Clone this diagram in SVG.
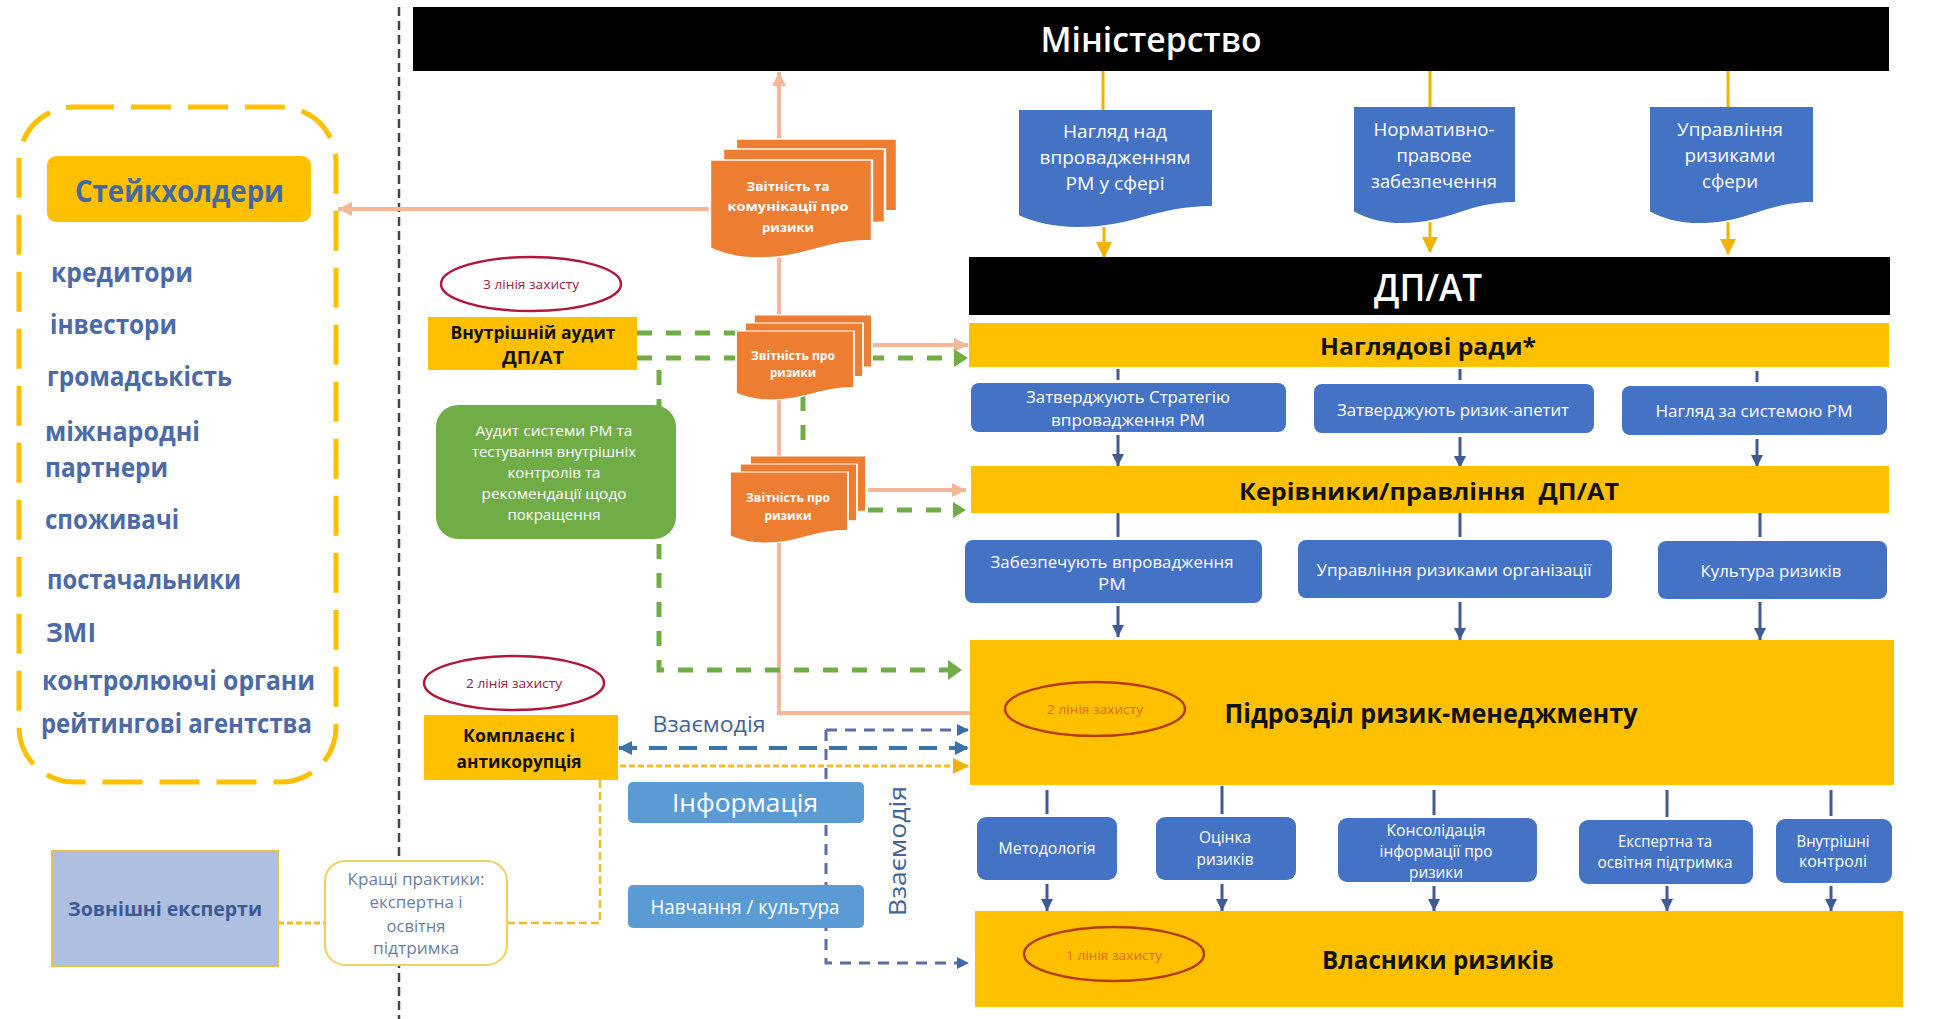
<svg xmlns="http://www.w3.org/2000/svg" width="1936" height="1019" viewBox="0 0 1936 1019">
<style>
text{font-family:"Open Sans","Noto Sans","Liberation Sans",sans-serif;text-anchor:middle;dominant-baseline:central;transform:translateY(-1px)}
.w{fill:#fff}.k{fill:#111;font-weight:700}.s{fill:#4a6aa8;font-weight:700;font-size:26px;text-anchor:start}
.y{fill:#ffc000}.b{fill:#4472c4}.o{fill:#ed7d31}.dk{fill:#000}
.doc{stroke:#fff;stroke-width:1.5;vector-effect:non-scaling-stroke}
.c{fill:none}
.sal{stroke:#f4b79a;stroke-width:4;marker-end:url(#mSal)}
.salp{stroke:#f4b79a;stroke-width:4}
.gr{stroke:#70ad47;stroke-width:5;stroke-dasharray:15 14}
.yl{stroke:#f0b400;stroke-width:3}
.bl{stroke:#3f5a94;stroke-width:3}
.nv{stroke:#5a6fa8;stroke-width:3;stroke-dasharray:11 8}
.st{stroke:#3d74a8;stroke-width:4;stroke-dasharray:18 12}
.dot{stroke:#f2bc2e;stroke-width:3;stroke-dasharray:6 3}
.das{stroke:#f2bc2e;stroke-width:2.5;stroke-dasharray:8 4}
.el{fill:none;stroke:#b0173a;stroke-width:2.5}
.el2{fill:none;stroke:#b83a10;stroke-width:2.5}
</style>
<defs>
<path id="doc" d="M0,0H100V82C70,82 60,100 30,100C18,100 8,96 0,90Z"/>
<marker id="mSal" markerUnits="userSpaceOnUse" markerWidth="16" markerHeight="16" refX="14" refY="8" orient="auto"><path d="M0,1L14,8L0,15Z" fill="#f4b79a"/></marker>
<marker id="mYl" markerUnits="userSpaceOnUse" markerWidth="18" markerHeight="20" refX="15" refY="10" orient="auto"><path d="M0,2L16,10L0,18Z" fill="#f0b400"/></marker>
<marker id="mBl" markerUnits="userSpaceOnUse" markerWidth="14" markerHeight="14" refX="12" refY="7" orient="auto"><path d="M0,1L12,7L0,13Z" fill="#3f5a94"/></marker>
<marker id="mNv" markerUnits="userSpaceOnUse" markerWidth="14" markerHeight="14" refX="11" refY="7" orient="auto"><path d="M0,1L12,7L0,13Z" fill="#3f6aa8"/></marker>
<marker id="mSt" markerUnits="userSpaceOnUse" markerWidth="16" markerHeight="16" refX="13" refY="8" orient="auto-start-reverse"><path d="M0,1L14,8L0,15Z" fill="#3d74a8"/></marker>
</defs>
<rect width="1936" height="1019" fill="#fff"/>

<g id="connectors">
<line x1="399" y1="7" x2="399" y2="1019" stroke="#444" stroke-width="2.5" stroke-dasharray="9 5"/>
<path class="c sal" d="M779,140V72"/>
<path class="c sal" d="M710,209H338"/>
<path class="c salp" d="M779,250V330M779,395V470M779,540V713H970"/>
<path class="c sal" d="M873,345H968"/>
<path class="c sal" d="M868,490H966"/>
<path class="c gr" d="M637,333H740"/>
<path class="c gr" d="M637,358H955"/>
<path d="M954,349L968,358L954,367Z" fill="#70ad47"/>
<path class="c gr" d="M868,510H955"/>
<path d="M953,502L966,510L953,518Z" fill="#70ad47"/>
<path class="c gr" d="M659,370V670H950"/>
<path d="M948,660L962,670L948,680Z" fill="#70ad47"/>
<path class="c gr" d="M803,396V445"/>
<path class="c yl" d="M1103,70V110"/><path class="c yl" marker-end="url(#mYl)" d="M1104,227V257"/>
<path class="c yl" d="M1430,70V107"/><path class="c yl" marker-end="url(#mYl)" d="M1430,222V252"/>
<path class="c yl" d="M1728,70V107"/><path class="c yl" marker-end="url(#mYl)" d="M1728,222V254"/>
<path class="c bl" d="M1118,369V380"/><path class="c bl" marker-end="url(#mBl)" d="M1118,435V466"/>
<path class="c bl" d="M1460,369V380"/><path class="c bl" marker-end="url(#mBl)" d="M1460,437V468"/>
<path class="c bl" d="M1757,371V382"/><path class="c bl" marker-end="url(#mBl)" d="M1757,439V467"/>
<path class="c bl" d="M1118,513V537"/><path class="c bl" marker-end="url(#mBl)" d="M1118,606V637"/>
<path class="c bl" d="M1460,513V537"/><path class="c bl" marker-end="url(#mBl)" d="M1460,602V640"/>
<path class="c bl" d="M1760,513V537"/><path class="c bl" marker-end="url(#mBl)" d="M1760,602V640"/>
<path class="c bl" d="M1047,790V814"/><path class="c bl" marker-end="url(#mBl)" d="M1047,884V911"/>
<path class="c bl" d="M1222,786V814"/><path class="c bl" marker-end="url(#mBl)" d="M1222,884V911"/>
<path class="c bl" d="M1434,790V815"/><path class="c bl" marker-end="url(#mBl)" d="M1434,886V911"/>
<path class="c bl" d="M1667,790V817"/><path class="c bl" marker-end="url(#mBl)" d="M1667,886V911"/>
<path class="c bl" d="M1831,790V816"/><path class="c bl" marker-end="url(#mBl)" d="M1831,886V911"/>
<path class="c nv" marker-end="url(#mNv)" d="M826,730H968"/>
<path class="c nv" marker-end="url(#mNv)" d="M826,730V963H968"/>
<path class="c st" marker-start="url(#mSt)" marker-end="url(#mSt)" d="M619,748H968"/>
<path class="c dot" marker-end="url(#mYl)" d="M620,766H968"/>
<path class="c das" d="M600,780V923H507"/>
<path class="c dot" d="M278,923H325"/>
</g>

<g id="stakeholders-frame"><rect x="19" y="107" width="317" height="675" rx="55" fill="none" stroke="#ffc000" stroke-width="5" stroke-dasharray="40 17"/></g>
<g id="stakeholders">
<rect x="47" y="156" width="264" height="66" rx="9" class="y"/>
<text x="179.500" y="191" font-size="30" font-weight="700" fill="#44689f" textLength="209" lengthAdjust="spacingAndGlyphs">Стейкхолдери</text>
<text class="s" x="51" y="273" textLength="142" lengthAdjust="spacingAndGlyphs">кредитори</text>
<text class="s" x="50" y="325" textLength="127" lengthAdjust="spacingAndGlyphs">інвестори</text>
<text class="s" x="47" y="377" textLength="185" lengthAdjust="spacingAndGlyphs">громадськість</text>
<text class="s" x="45" y="432" textLength="155" lengthAdjust="spacingAndGlyphs">міжнародні</text>
<text class="s" x="45" y="468" textLength="123" lengthAdjust="spacingAndGlyphs">партнери</text>
<text class="s" x="45" y="520" textLength="134" lengthAdjust="spacingAndGlyphs">споживачі</text>
<text class="s" x="47" y="580" textLength="194" lengthAdjust="spacingAndGlyphs">постачальники</text>
<text class="s" x="46" y="633" textLength="50" lengthAdjust="spacingAndGlyphs">ЗМІ</text>
<text class="s" x="42" y="681" textLength="273" lengthAdjust="spacingAndGlyphs">контролюючі органи</text>
<text class="s" x="41" y="724" textLength="271" lengthAdjust="spacingAndGlyphs">рейтингові агентства</text>
</g>

<g id="ministry"><rect x="413" y="7" width="1476" height="64" class="dk"/>
<text class="w" x="1151" y="40" font-size="34" font-weight="600" textLength="221" lengthAdjust="spacingAndGlyphs">Міністерство</text></g>

<g id="doc-oversight"><use href="#doc" class="b" transform="translate(1019,110) scale(1.93,1.17)"/>
<g font-size="19"><text class="w" x="1115" y="132" textLength="104" lengthAdjust="spacingAndGlyphs">Нагляд над</text><text class="w" x="1115" y="158" textLength="151" lengthAdjust="spacingAndGlyphs">впровадженням</text><text class="w" x="1115" y="184" textLength="99" lengthAdjust="spacingAndGlyphs">РМ у сфері</text></g></g>
<g id="doc-regulation"><use href="#doc" class="b" transform="translate(1354,107) scale(1.61,1.16)"/>
<g font-size="19"><text class="w" x="1434" y="130" textLength="121" lengthAdjust="spacingAndGlyphs">Нормативно-</text><text class="w" x="1434" y="156" textLength="75" lengthAdjust="spacingAndGlyphs">правове</text><text class="w" x="1434" y="182" textLength="126" lengthAdjust="spacingAndGlyphs">забезпечення</text></g></g>
<g id="doc-risk"><use href="#doc" class="b" transform="translate(1650,107) scale(1.63,1.16)"/>
<g font-size="19"><text class="w" x="1730" y="130" textLength="106" lengthAdjust="spacingAndGlyphs">Управління</text><text class="w" x="1730" y="156" textLength="91" lengthAdjust="spacingAndGlyphs">ризиками</text><text class="w" x="1730" y="182" textLength="56" lengthAdjust="spacingAndGlyphs">сфери</text></g></g>

<g id="soe"><rect x="969" y="257" width="921" height="58" class="dk"/>
<text class="w" x="1428" y="287" font-size="38" font-weight="600" textLength="108" lengthAdjust="spacingAndGlyphs">ДП/АТ</text></g>

<g id="boards"><rect x="969" y="323" width="920" height="44" class="y"/>
<text class="k" x="1428" y="346" font-size="24" textLength="216" lengthAdjust="spacingAndGlyphs">Наглядові ради*</text></g>

<g id="b-strategy"><rect x="971" y="383" width="315" height="49" rx="8" class="b"/>
<g font-size="17"><text class="w" x="1128" y="397" textLength="204" lengthAdjust="spacingAndGlyphs">Затверджують Стратегію</text><text class="w" x="1128" y="420" textLength="154" lengthAdjust="spacingAndGlyphs">впровадження РМ</text></g></g>
<g id="b-appetite"><rect x="1314" y="384" width="280" height="49" rx="8" class="b"/>
<text class="w" x="1453" y="410" font-size="17" textLength="232" lengthAdjust="spacingAndGlyphs">Затверджують ризик-апетит</text></g>
<g id="b-system"><rect x="1622" y="386" width="265" height="49" rx="8" class="b"/>
<text class="w" x="1754" y="411" font-size="17" textLength="197" lengthAdjust="spacingAndGlyphs">Нагляд за системою РМ</text></g>

<g id="management"><rect x="971" y="466" width="918" height="47" class="y"/>
<text class="k" x="1429" y="491" font-size="24" textLength="380" lengthAdjust="spacingAndGlyphs" xml:space="preserve">Керівники/правління  ДП/АТ</text></g>

<g id="b-implement"><rect x="965" y="540" width="297" height="63" rx="8" class="b"/>
<g font-size="17"><text class="w" x="1112" y="562" textLength="243" lengthAdjust="spacingAndGlyphs">Забезпечують впровадження</text><text class="w" x="1112" y="584" textLength="28" lengthAdjust="spacingAndGlyphs">РМ</text></g></g>
<g id="b-orgrisk"><rect x="1298" y="540" width="314" height="58" rx="8" class="b"/>
<text class="w" x="1454" y="570" font-size="17" textLength="275" lengthAdjust="spacingAndGlyphs">Управління ризиками організації</text></g>
<g id="b-culture"><rect x="1658" y="541" width="229" height="58" rx="8" class="b"/>
<text class="w" x="1771" y="571" font-size="17" textLength="141" lengthAdjust="spacingAndGlyphs">Культура ризиків</text></g>

<g id="risk-unit"><rect x="970" y="640" width="924" height="145" class="y"/>
<ellipse class="el2" cx="1095" cy="709" rx="90" ry="27"/>
<text x="1095" y="710" font-size="12" fill="#e36c09" textLength="96" lengthAdjust="spacingAndGlyphs">2 лінія захисту</text>
<text class="k" x="1431" y="714" font-size="26" textLength="413" lengthAdjust="spacingAndGlyphs">Підрозділ ризик-менеджменту</text></g>

<g id="b-method"><rect x="977" y="817" width="140" height="63" rx="9" class="b"/><text class="w" x="1047" y="849" font-size="16" textLength="97" lengthAdjust="spacingAndGlyphs">Методологія</text></g>
<g id="b-assess"><rect x="1156" y="817" width="140" height="63" rx="9" class="b"/><g font-size="16"><text class="w" x="1225" y="838" textLength="52" lengthAdjust="spacingAndGlyphs">Оцінка</text><text class="w" x="1225" y="860" textLength="57" lengthAdjust="spacingAndGlyphs">ризиків</text></g></g>
<g id="b-consol"><rect x="1338" y="818" width="199" height="64" rx="9" class="b"/><g font-size="16"><text class="w" x="1436" y="831" textLength="99" lengthAdjust="spacingAndGlyphs">Консолідація</text><text class="w" x="1436" y="852" textLength="113" lengthAdjust="spacingAndGlyphs">інформації про</text><text class="w" x="1436" y="873" textLength="54" lengthAdjust="spacingAndGlyphs">ризики</text></g></g>
<g id="b-expert"><rect x="1579" y="820" width="174" height="64" rx="9" class="b"/><g font-size="16"><text class="w" x="1665" y="842" textLength="94" lengthAdjust="spacingAndGlyphs">Експертна та</text><text class="w" x="1665" y="863" textLength="135" lengthAdjust="spacingAndGlyphs">освітня підтримка</text></g></g>
<g id="b-control"><rect x="1776" y="819" width="116" height="64" rx="9" class="b"/><g font-size="16"><text class="w" x="1833" y="842" textLength="73" lengthAdjust="spacingAndGlyphs">Внутрішні</text><text class="w" x="1833" y="862" textLength="68" lengthAdjust="spacingAndGlyphs">контролі</text></g></g>

<g id="owners"><rect x="975" y="911" width="928" height="96" class="y"/>
<ellipse class="el2" cx="1114" cy="954" rx="90" ry="27"/>
<text x="1114" y="956" font-size="12" fill="#e36c09" textLength="96" lengthAdjust="spacingAndGlyphs">1 лінія захисту</text>
<text class="k" x="1438" y="960" font-size="25" textLength="232" lengthAdjust="spacingAndGlyphs">Власники ризиків</text></g>

<g id="stack-comm">
<use href="#doc" class="o doc" transform="translate(736,139) scale(1.61,0.87)"/>
<use href="#doc" class="o doc" transform="translate(723,149) scale(1.62,0.89)"/>
<use href="#doc" class="o doc" transform="translate(710,160) scale(1.62,0.98)"/>
<g font-size="13"><text class="w" font-weight="700" x="788" y="187" textLength="83" lengthAdjust="spacingAndGlyphs">Звітність та</text><text class="w" font-weight="700" x="788" y="207" textLength="121" lengthAdjust="spacingAndGlyphs">комунікації про</text><text class="w" font-weight="700" x="788" y="228" textLength="52" lengthAdjust="spacingAndGlyphs">ризики</text></g>
</g>
<g id="stack-report1">
<use href="#doc" class="o doc" transform="translate(754,315) scale(1.18,0.63)"/>
<use href="#doc" class="o doc" transform="translate(745,323) scale(1.18,0.65)"/>
<use href="#doc" class="o doc" transform="translate(736,331) scale(1.18,0.69)"/>
<g font-size="13"><text class="w" font-weight="700" x="793" y="356" textLength="84" lengthAdjust="spacingAndGlyphs">Звітність про</text><text class="w" font-weight="700" x="793" y="373" textLength="46" lengthAdjust="spacingAndGlyphs">ризики</text></g>
</g>
<g id="stack-report2">
<use href="#doc" class="o doc" transform="translate(750,456) scale(1.16,0.67)"/>
<use href="#doc" class="o doc" transform="translate(740,464) scale(1.17,0.69)"/>
<use href="#doc" class="o doc" transform="translate(730,472) scale(1.18,0.71)"/>
<g font-size="13"><text class="w" font-weight="700" x="788" y="498" textLength="84" lengthAdjust="spacingAndGlyphs">Звітність про</text><text class="w" font-weight="700" x="788" y="516" textLength="47" lengthAdjust="spacingAndGlyphs">ризики</text></g>
</g>

<g id="line3"><ellipse class="el" cx="531" cy="284" rx="90" ry="27"/>
<text x="531" y="285" font-size="12" fill="#a02040" textLength="96" lengthAdjust="spacingAndGlyphs">3 лінія захисту</text></g>
<g id="audit"><rect x="428" y="317" width="209" height="53" class="y"/>
<g font-size="18"><text class="k" x="533" y="333" textLength="165" lengthAdjust="spacingAndGlyphs">Внутрішній аудит</text><text class="k" x="533" y="358" textLength="62" lengthAdjust="spacingAndGlyphs">ДП/АТ</text></g></g>
<g id="audit-desc"><rect x="436" y="405" width="240" height="134" rx="22" fill="#70ad47"/>
<g font-size="15"><text class="w" x="554" y="431" textLength="157" lengthAdjust="spacingAndGlyphs">Аудит системи РМ та</text><text class="w" x="554" y="452" textLength="164" lengthAdjust="spacingAndGlyphs">тестування внутрішніх</text><text class="w" x="554" y="473" textLength="93" lengthAdjust="spacingAndGlyphs">контролів та</text><text class="w" x="554" y="494" textLength="145" lengthAdjust="spacingAndGlyphs">рекомендації щодо</text><text class="w" x="554" y="515" textLength="93" lengthAdjust="spacingAndGlyphs">покращення</text></g></g>

<g id="line2"><ellipse class="el" cx="514" cy="683" rx="90" ry="27"/>
<text x="514" y="684" font-size="12" fill="#a02040" textLength="96" lengthAdjust="spacingAndGlyphs">2 лінія захисту</text></g>
<g id="compliance"><rect x="424" y="715" width="194" height="65" class="y"/>
<g font-size="18"><text class="k" x="519" y="736" textLength="112" lengthAdjust="spacingAndGlyphs">Комплаєнс і</text><text class="k" x="519" y="762" textLength="125" lengthAdjust="spacingAndGlyphs">антикорупція</text></g></g>

<g id="labels">
<text x="709" y="724" font-size="22" fill="#44639a" textLength="113" lengthAdjust="spacingAndGlyphs">Взаємодія</text>
<g transform="translate(897,851) rotate(-90)"><text x="0" y="0" font-size="24" fill="#44639a" textLength="130" lengthAdjust="spacingAndGlyphs">Взаємодія</text></g>
</g>
<g id="info"><rect x="628" y="782" width="236" height="41" rx="5" fill="#5b9bd5"/><text class="w" x="745" y="803" font-size="26" textLength="146" lengthAdjust="spacingAndGlyphs">Інформація</text></g>
<g id="training"><rect x="628" y="885" width="236" height="43" rx="5" fill="#5b9bd5"/><text class="w" x="745" y="907" font-size="20" textLength="189" lengthAdjust="spacingAndGlyphs">Навчання / культура</text></g>

<g id="experts"><rect x="52" y="851" width="226" height="115" fill="#aebfe0" stroke="#e8c050" stroke-width="2"/>
<text x="165" y="909" font-size="20" font-weight="700" fill="#3c5a94" textLength="194" lengthAdjust="spacingAndGlyphs">Зовнішні експерти</text></g>
<g id="best-practices"><rect x="325" y="861" width="182" height="104" rx="20" fill="#fff" stroke="#f5cf5c" stroke-width="2"/>
<g font-size="17"><text x="416" y="879" fill="#6a7fa8" textLength="137" lengthAdjust="spacingAndGlyphs">Кращі практики:</text><text x="416" y="902" fill="#6a7fa8" textLength="93" lengthAdjust="spacingAndGlyphs">експертна і</text><text x="416" y="926" fill="#6a7fa8" textLength="59" lengthAdjust="spacingAndGlyphs">освітня</text><text x="416" y="948" fill="#6a7fa8" textLength="86" lengthAdjust="spacingAndGlyphs">підтримка</text></g></g>
</svg>
